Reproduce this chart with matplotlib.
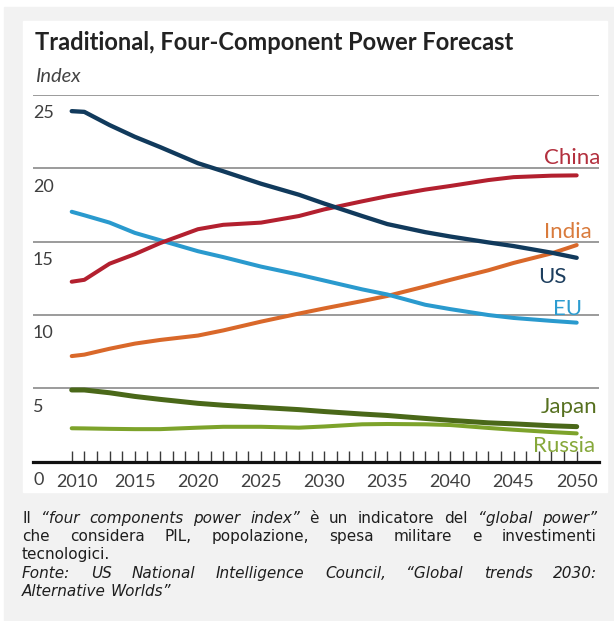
import matplotlib
matplotlib.use("Agg")
import matplotlib.pyplot as plt
import matplotlib.transforms as mtransforms
from matplotlib.patches import Rectangle

# ===============================
# DATI
# ===============================

years = [2010, 2011, 2013, 2015, 2017, 2020, 2022, 2025, 2028,
         2030, 2033, 2035, 2038, 2040, 2043, 2045, 2048, 2050]

us = [23.9, 23.85, 22.95, 22.15, 21.45, 20.35, 19.8, 18.95, 18.2,
      17.6, 16.75, 16.2, 15.65, 15.35, 14.95, 14.7, 14.25, 13.9]
china = [12.27, 12.4, 13.5, 14.15, 14.9, 15.85, 16.15, 16.3, 16.75,
         17.2, 17.75, 18.1, 18.55, 18.8, 19.2, 19.4, 19.5, 19.52]
eu = [17.04, 16.8, 16.3, 15.6, 15.1, 14.35, 13.95, 13.3, 12.75,
      12.35, 11.75, 11.4, 10.7, 10.4, 10.0, 9.8, 9.6, 9.48]
india = [7.2, 7.3, 7.7, 8.05, 8.3, 8.6, 8.95, 9.55, 10.1,
         10.45, 10.95, 11.3, 11.95, 12.4, 13.05, 13.55, 14.2, 14.77]
japan = [4.89, 4.89, 4.7, 4.45, 4.25, 3.98, 3.85, 3.7, 3.55,
         3.42, 3.25, 3.15, 2.95, 2.82, 2.65, 2.58, 2.45, 2.39]
russia = [2.28, 2.27, 2.24, 2.22, 2.22, 2.32, 2.38, 2.38, 2.32,
          2.4, 2.55, 2.57, 2.55, 2.5, 2.3, 2.18, 2.02, 1.93]

grid_vals = [5, 10, 15, 20, 25]
y_labels = [0, 5, 10, 15, 20, 25]
x_labels = list(range(2010, 2051, 5))
tick_years = list(range(2010, 2051))

# nome, valori, colore linea, colore etichetta, spessore, posizione etichetta (anno, valore)
series = [
    ("Russia", russia, "#7da32b", "#86a83a", 2.9, (2051.45, 0.68)),
    ("Japan", japan, "#4a6819", "#56701f", 3.6, (2051.6, 3.32)),
    ("India", india, "#d9682a", "#d97b3c", 2.9, (2051.2, 15.23)),
    ("EU", eu, "#2a9ace", "#2c9cd0", 2.9, (2050.4, 10.0)),
    ("China", china, "#b3202f", "#b3303e", 2.9, (2051.9, 20.28)),
    ("US", us, "#113a5c", "#1d3e5e", 3.1, (2049.2, 12.16)),
]

W, H = 614, 621
fig = plt.figure(figsize=(W / 100, H / 100), dpi=100)
fig.patch.set_facecolor("white")


def px_box(x0, y0, x1, y1):
    # rettangolo in pixel (origine in alto a sinistra) -> frazioni della figura
    return [x0 / W, 1 - y1 / H, (x1 - x0) / W, (y1 - y0) / H]


# sfondo grigio e pannello bianco del grafico
g = px_box(4, 7, W, H)
fig.patches.append(Rectangle(g[:2], g[2], g[3], transform=fig.transFigure,
                             color="#f2f2f2", zorder=-2))
b = px_box(23, 21, 607, 492)
fig.patches.append(Rectangle(b[:2], b[2], b[3], transform=fig.transFigure,
                             color="white", zorder=-1))

# ===============================
# ASSI
# ===============================

x0_year, px_per_year = 71.7, 12.625
ax_top, ax_bottom = 95, 461.7
ax = fig.add_axes(px_box(33, ax_top, 599, ax_bottom))
ax.set_facecolor("none")
ax.set_xlim(2010 + (33 - x0_year) / px_per_year, 2010 + (599 - x0_year) / px_per_year)
ax.set_ylim(0, 25)

for s in ["left", "right", "top"]:
    ax.spines[s].set_visible(False)
ax.spines["bottom"].set_linewidth(2.3)
ax.spines["bottom"].set_color("#111111")

for v in grid_vals:
    ax.axhline(v, color="#808080", lw=1.1, zorder=1)

# tacche annuali sopra l'asse
tick_h = 10.5 / (ax_bottom - ax_top) * 25
for yr in tick_years:
    ax.plot([yr, yr], [0, tick_h], color="#3a3a3a", lw=1.0, zorder=2,
            solid_capstyle="butt")

ax.set_yticks([])
ax.set_xticks(x_labels)
ax.set_xticklabels([str(y) for y in x_labels], fontsize=13, family="Lato", color="#3f3f3f")
ax.tick_params(axis="x", which="both", length=0, pad=8.5)
# piccolo spostamento di "2010" per staccarlo dallo "0"
lab0 = ax.xaxis.get_major_ticks()[0].label1
lab0.set_transform(lab0.get_transform() + mtransforms.ScaledTranslation(0.05, 0, fig.dpi_scale_trans))

ytrans = mtransforms.blended_transform_factory(ax.transAxes, ax.transData)
for v in y_labels:
    ax.text(0, v - 1.6, str(v), transform=ytrans, ha="left", va="baseline",
            fontsize=13, family="Lato", color="#3f3f3f")

for name, vals, col, lcol, lw, (lx, ly) in series:
    ax.plot(years, vals, color=col, lw=lw, solid_capstyle="round",
            solid_joinstyle="round", zorder=3, clip_on=False)
    ax.text(lx, ly, name, ha="right", va="baseline", fontsize=16,
            family="Lato", color=lcol, zorder=4)

# ===============================
# TITOLI
# ===============================

fig.text(35 / W, 1 - 50 / H, "Traditional, Four-Component Power Forecast",
         fontsize=17, weight="bold", family="Lato", color="#222222", va="baseline")
fig.text(35 / W, 1 - 82 / H, "Index", fontsize=14.5, style="italic",
         family="Lato", color="#444444", va="baseline")

# ===============================
# DIDASCALIA (giustificata)
# ===============================

cap_lines = [
    [("Il", "normal"), ("“four", "italic"), ("components", "italic"), ("power", "italic"),
     ("index”", "italic"), ("è", "normal"), ("un", "normal"), ("indicatore", "normal"),
     ("del", "normal"), ("“global", "italic"), ("power”", "italic")],
    [("che", "normal"), ("considera", "normal"), ("PIL,", "normal"), ("popolazione,", "normal"),
     ("spesa", "normal"), ("militare", "normal"), ("e", "normal"), ("investimenti", "normal")],
    [("tecnologici.", "normal")],
    [("Fonte:", "italic"), ("US", "italic"), ("National", "italic"), ("Intelligence", "italic"),
     ("Council,", "italic"), ("“Global", "italic"), ("trends", "italic"), ("2030:", "italic")],
    [("Alternative", "italic"), ("Worlds”", "italic")],
]
cap_justify = [True, True, False, True, False]
cap_left, cap_right = 22, 597
cap_size = 11
space_px = 0.318 * cap_size * 100 / 72

renderer = fig.canvas.get_renderer()
for i, (words, just) in enumerate(zip(cap_lines, cap_justify)):
    y = 1 - (523 + i * 18.2) / H
    texts = [fig.text(0, y, w, fontsize=cap_size, style=st, family="DejaVu Sans",
                      color="#1e1e1e", va="baseline") for w, st in words]
    widths = [t.get_window_extent(renderer).width for t in texts]
    if just and len(texts) > 1:
        gap = (cap_right - cap_left - sum(widths)) / (len(texts) - 1)
    else:
        gap = space_px
    x = cap_left
    for t, wd in zip(texts, widths):
        t.set_x(x / W)
        x += wd + gap

fig.savefig("out.png", dpi=100, facecolor=fig.get_facecolor())
